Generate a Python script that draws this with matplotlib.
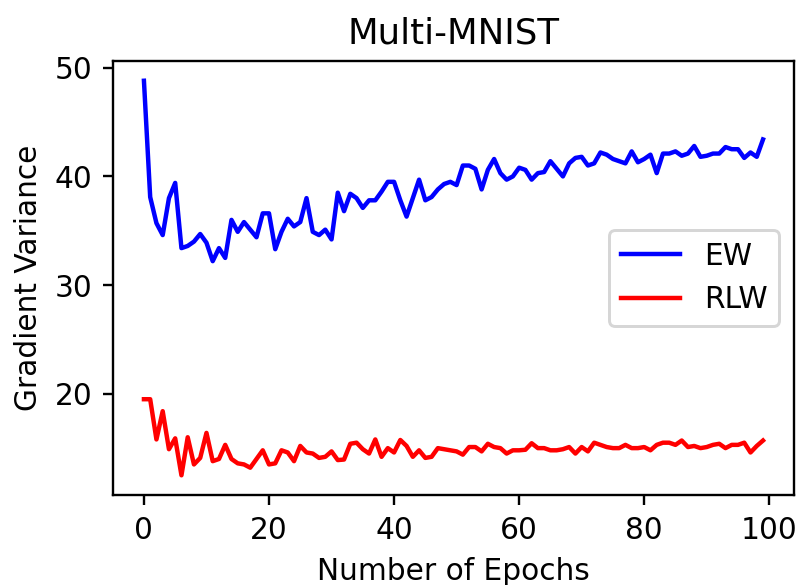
import numpy as np
import matplotlib
matplotlib.use('Agg')
import matplotlib.pyplot as plt

# gradient variance per epoch
ew = [48.8, 38.1, 35.7, 34.6, 38.0, 39.4, 33.4, 33.6, 34.0, 34.7,
      33.9, 32.2, 33.4, 32.5, 36.0, 34.9, 35.8, 35.1, 34.4, 36.6,
      36.6, 33.3, 34.9, 36.1, 35.4, 35.8, 38.0, 34.9, 34.6, 35.1,
      34.2, 38.5, 36.8, 38.4, 38.0, 37.1, 37.8, 37.8, 38.6, 39.5,
      39.5, 37.8, 36.3, 38.0, 39.7, 37.8, 38.1, 38.8, 39.3, 39.5,
      39.2, 41.0, 41.0, 40.7, 38.8, 40.6, 41.6, 40.3, 39.7, 40.0,
      40.8, 40.6, 39.7, 40.3, 40.4, 41.4, 40.7, 40.0, 41.2, 41.7,
      41.8, 41.0, 41.2, 42.2, 42.0, 41.6, 41.4, 41.2, 42.3, 41.3,
      41.6, 42.0, 40.3, 42.1, 42.1, 42.3, 41.9, 42.1, 42.8, 41.8,
      41.9, 42.1, 42.1, 42.7, 42.5, 42.5, 41.7, 42.2, 41.8, 43.4]
rlw = [19.5, 19.5, 15.8, 18.4, 14.9, 15.9, 12.5, 16.0, 13.5, 14.1,
       16.4, 13.8, 14.0, 15.3, 14.0, 13.6, 13.5, 13.2, 14.0, 14.8,
       13.5, 13.6, 14.8, 14.6, 13.8, 15.2, 14.6, 14.5, 14.1, 14.2,
       14.7, 13.9, 13.95, 15.4, 15.5, 14.9, 14.5, 15.8, 14.2, 15.0,
       14.6, 15.75, 15.2, 14.2, 14.8, 14.1, 14.2, 15.0, 14.9, 14.8,
       14.7, 14.4, 15.1, 15.1, 14.7, 15.4, 15.1, 15.0, 14.5, 14.8,
       14.8, 14.85, 15.45, 15.0, 15.0, 14.8, 14.8, 14.9, 15.1, 14.5,
       15.1, 14.7, 15.5, 15.3, 15.1, 15.0, 15.0, 15.3, 15.0, 15.0,
       15.1, 14.8, 15.3, 15.5, 15.5, 15.3, 15.7, 15.1, 15.2, 15.0,
       15.1, 15.3, 15.4, 15.0, 15.3, 15.3, 15.5, 14.6, 15.2, 15.7]
epochs = np.arange(len(ew))

dpi = 213
fig = plt.figure(figsize=(799 / dpi, 585 / dpi), dpi=dpi)
ax = fig.add_axes([0.1414, 0.1538, 0.8523, 0.7419])

ax.plot(epochs, ew, color='blue', label='EW')
ax.plot(epochs, rlw, color='red', label='RLW')

ax.set_yticks([20, 30, 40, 50])
ax.set_xticks([0, 20, 40, 60, 80, 100])
ax.set_xlabel('Number of Epochs')
ax.set_ylabel('Gradient Variance')
ax.set_title('Multi-MNIST')
ax.legend(loc='center right')

fig.savefig('out.png', dpi=dpi)
